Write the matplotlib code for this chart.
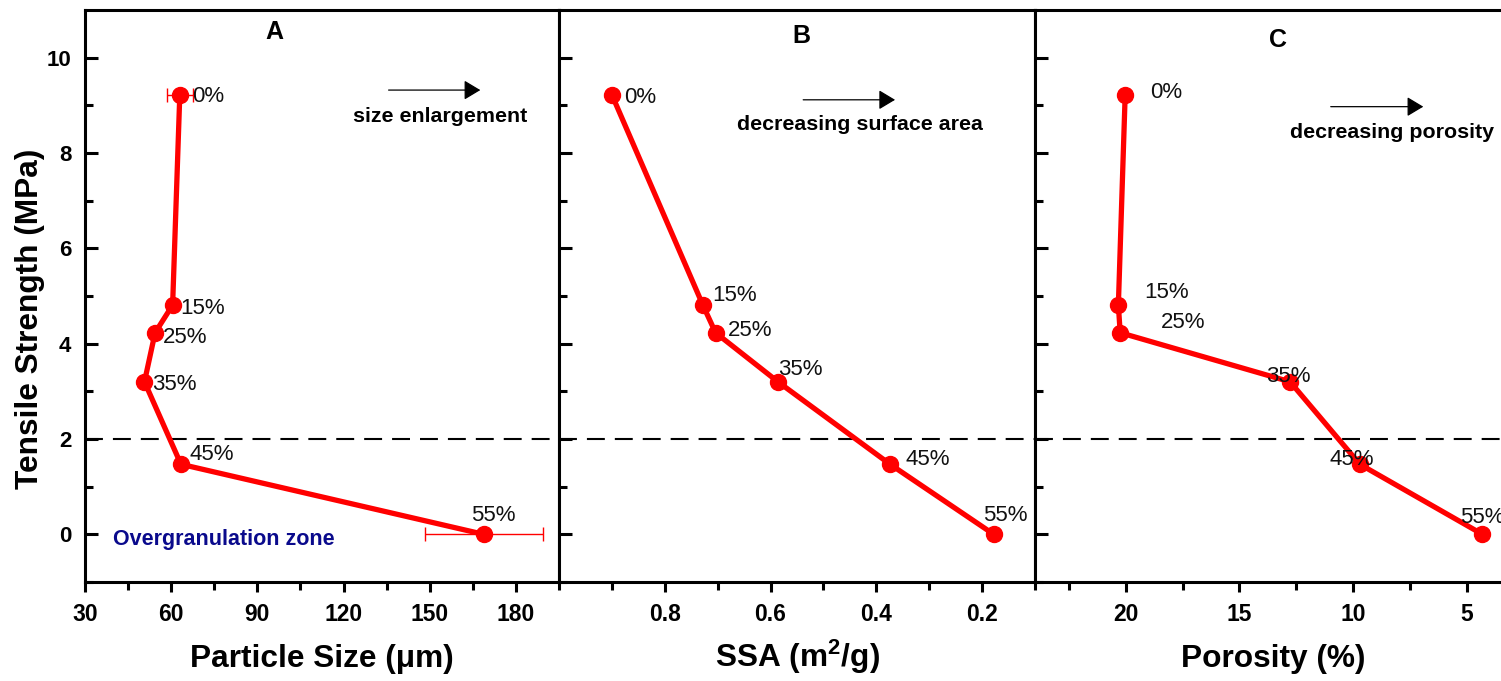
import matplotlib
matplotlib.use("Agg")
import matplotlib.pyplot as plt

plt.rcParams['font.family'] = ['Liberation Sans', 'DejaVu Sans']
plt.rcParams['mathtext.fontset'] = 'custom'
plt.rcParams['mathtext.rm'] = 'Liberation Sans:bold'
plt.rcParams['mathtext.it'] = 'Liberation Sans:bold'
plt.rcParams['mathtext.bf'] = 'Liberation Sans:bold'

# ---------------- data ----------------
labels = ['0%', '15%', '25%', '35%', '45%', '55%']
tensile = [9.22, 4.81, 4.23, 3.20, 1.47, 0.0]
particle_size = [63.0, 60.5, 54.4, 50.7, 63.4, 168.8]
particle_size_err = [4.5, 0, 0, 0, 0, 20.5]
ssa = [0.900, 0.728, 0.704, 0.586, 0.374, 0.178]
porosity = [20.03, 20.33, 20.25, 12.77, 9.70, 4.30]

# label offsets (pixels) per panel
offs_A = [(12, -2, 'left'), (8, -3, 'left'), (8, -5, 'left'), (8, -3, 'left'), (9, 10, 'left'), (10, 19, 'center')]
offs_B = [(12, -3, 'left'), (9, 10, 'left'), (12, 2, 'left'), (0, 12, 'left'), (15, 5, 'left'), (-11, 19, 'left')]
offs_C = [(25, 2, 'left'), (26, 13, 'left'), (41, 10, 'left'), (-24, 5, 'left'), (-30, 5, 'left'), (-22, 17, 'left')]

W, H = 1501, 681
fig = plt.figure(figsize=(W / 100, H / 100), dpi=100)

bottom = 1 - 582 / H
height = (582 - 10) / H
axA = fig.add_axes([85 / W, bottom, (559 - 85) / W, height])
axB = fig.add_axes([559 / W, bottom, (1035 - 559) / W, height])
axC = fig.add_axes([1035 / W, bottom, (1512 - 1035) / W, height])

red = '#ff0000'
line_kw = dict(color=red, lw=3.8, marker='o', markersize=11.5, zorder=3)

axA.errorbar(particle_size, tensile, xerr=particle_size_err, ecolor=red,
             elinewidth=1.0, capsize=4.7, capthick=1.0, **line_kw)
axB.plot(ssa, tensile, **line_kw)
axC.plot(porosity, tensile, **line_kw)

for ax, xs, offs in [(axA, particle_size, offs_A), (axB, ssa, offs_B), (axC, porosity, offs_C)]:
    for lab, x, y, (dx, dy, ha) in zip(labels, xs, tensile, offs):
        ax.annotate(lab, (x, y), xytext=(dx, dy), textcoords='offset pixels',
                    ha=ha, va='center', fontsize=16, color='#111111', zorder=4)
    ax.axhline(2, color='black', lw=1.5, dashes=(8.6, 4.8), zorder=2)
    ax.set_ylim(-1, 11)
    for s in ax.spines.values():
        s.set_linewidth(2.2)
    ax.tick_params(axis='y', which='both', direction='in', left=True, right=False,
                   width=2.2, pad=9.8, labelsize=16)
    ax.tick_params(axis='y', which='major', length=9)
    ax.tick_params(axis='y', which='minor', length=5.5)
    ax.tick_params(axis='x', which='both', direction='out', bottom=True, top=False,
                   width=2.2, pad=8, labelsize=16.5)
    ax.tick_params(axis='x', which='major', length=7)
    ax.tick_params(axis='x', which='minor', length=5.5)
    ax.set_yticks([0, 2, 4, 6, 8, 10])
    ax.set_yticks([-1, 1, 3, 5, 7, 9], minor=True)

# axis A
axA.set_xlim(30, 195)
axA.set_xticks([30, 60, 90, 120, 150, 180])
axA.set_xticks([45, 75, 105, 135, 165, 195], minor=True)
axA.set_xlabel('Particle Size (\u03bcm)', fontsize=22.8, fontweight='bold', va='baseline')

# axis B
axB.set_xlim(1.0, 0.1)
axB.set_xticks([0.8, 0.6, 0.4, 0.2])
axB.set_xticklabels(['0.8', '0.6', '0.4', '0.2'])
axB.set_xticks([0.9, 0.7, 0.5, 0.3, 0.1], minor=True)
axB.set_yticklabels([])
axB.set_xlabel('SSA (m$^{2}$/g)', fontsize=22.8, fontweight='bold', va='baseline')

# axis C
axC.set_xlim(24, 3.0)
axC.set_xticks([20, 15, 10, 5])
axC.set_xticks([22.5, 17.5, 12.5, 7.5], minor=True)
axC.set_yticklabels([])
axC.set_xlabel('Porosity (%)', fontsize=22.8, fontweight='bold', va='baseline')

for ax in (axA, axB, axC):
    for t in ax.get_xticklabels() + ax.get_yticklabels():
        t.set_fontweight('bold')
    ax.xaxis.set_label_coords(0.5, -0.148)

fig.text(30 / W, 1 - 319 / H, 'Tensile Strength (MPa)', rotation=90, ha='center', va='center',
         fontsize=22.8, fontweight='bold')

# panel letters
axA.text(0.399, 0.961, 'A', transform=axA.transAxes, ha='center', va='center', fontsize=18, fontweight='bold')
axB.text(0.510, 0.954, 'B', transform=axB.transAxes, ha='center', va='center', fontsize=18, fontweight='bold')
axC.text(0.509, 0.947, 'C', transform=axC.transAxes, ha='center', va='center', fontsize=18, fontweight='bold')

# arrows + descriptions
arrow_kw = dict(arrowstyle='-|>,head_length=0.5,head_width=0.3', color='black', lw=0.9,
                mutation_scale=20, shrinkA=0, shrinkB=0)
axA.annotate('', xy=(0.834, 0.860), xytext=(0.6405, 0.860), xycoords='axes fraction', arrowprops=arrow_kw)
axA.text(0.749, 0.813, 'size enlargement', transform=axA.transAxes, ha='center', va='center',
         fontsize=15.4, fontweight='bold')
axB.annotate('', xy=(0.706, 0.843), xytext=(0.513, 0.843), xycoords='axes fraction', arrowprops=arrow_kw)
axB.text(0.633, 0.799, 'decreasing surface area', transform=axB.transAxes, ha='center', va='center',
         fontsize=15.4, fontweight='bold')
axC.annotate('', xy=(0.814, 0.831), xytext=(0.620, 0.831), xycoords='axes fraction', arrowprops=arrow_kw)
axC.text(0.749, 0.786, 'decreasing porosity', transform=axC.transAxes, ha='center', va='center',
         fontsize=15.4, fontweight='bold')

axA.text(39.9, -0.1, 'Overgranulation zone', ha='left', va='center', fontsize=15.5,
         fontweight='bold', color='#0a0a8c')

fig.savefig('out.png', dpi=100)
